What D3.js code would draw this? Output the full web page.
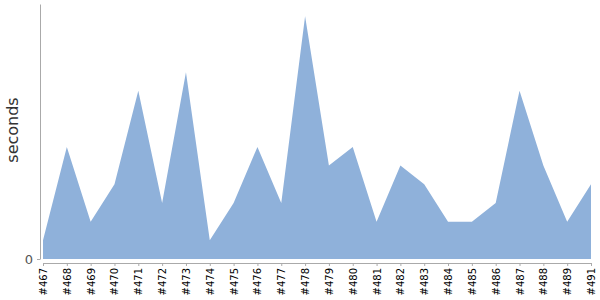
<!DOCTYPE html>
<html><head><meta charset="utf-8">
<script src="https://cdn.jsdelivr.net/npm/d3@7"></script>
<style>body{margin:0;background:#fff}svg{display:block}</style>
</head><body><svg id="c" width="600" height="300"></svg>
<script>
const categories = ["#467","#468","#469","#470","#471","#472","#473","#474","#475","#476","#477","#478","#479","#480","#481","#482","#483","#484","#485","#486","#487","#488","#489","#491"];
const seconds = [1,6,2,4,9,3,10,1,3,6,3,13,5,6,2,5,4,2,2,3,9,5,2,4];
const yTicks = [0];

const svg = d3.select("#c");
const x = d3.scalePoint().domain(categories).range([43, 591]);
const y = d3.scaleLinear().domain([0, 13.65]).range([259, 4]);

const area = d3.area().x((d,i)=>x(categories[i])).y0(y(0)).y1(d=>y(d));
svg.append("path").datum(seconds).attr("d", area).attr("fill", "#8fb1da");

const yAx = svg.append("g").attr("transform","translate(40,0)")
  .call(d3.axisLeft(y).tickValues(yTicks).tickSize(3).tickSizeOuter(0).tickPadding(4));
yAx.select(".domain").attr("stroke","#aaa");
yAx.selectAll(".tick line").attr("stroke","#aaa");
yAx.selectAll(".tick text").attr("font-family","DejaVu Sans, sans-serif").attr("font-size",13).attr("fill","#555");

const xAx = svg.append("g").attr("transform","translate(0,263)")
  .call(d3.axisBottom(x).tickSize(3).tickSizeOuter(0).tickPadding(3));
xAx.select(".domain").attr("stroke","#aaa");
xAx.selectAll(".tick line").attr("stroke","#aaa");
xAx.selectAll(".tick text").attr("font-family","DejaVu Sans, sans-serif").attr("font-size",10).attr("fill","#000")
  .attr("transform","rotate(-90)").attr("text-anchor","end").attr("x",-5).attr("y",0).attr("dy","0.35em");

svg.append("text").attr("transform","translate(18,130) rotate(-90)").attr("text-anchor","middle")
  .attr("font-family","DejaVu Sans, sans-serif").attr("font-size",16).attr("fill","#333").text("seconds");
</script></body></html>
